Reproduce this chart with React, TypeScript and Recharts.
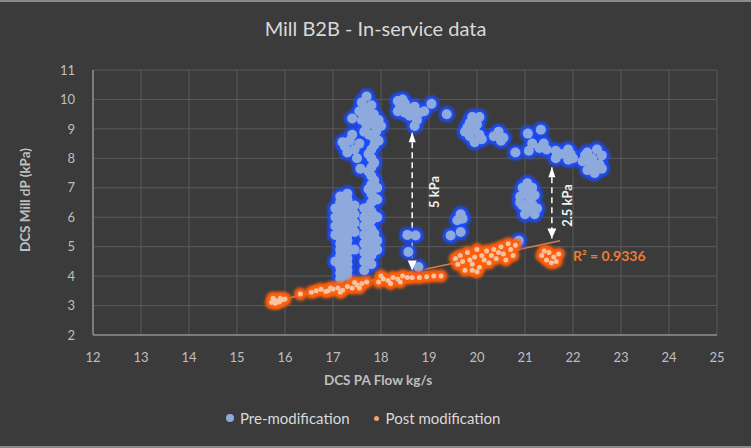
import React from 'react';
import {
  ScatterChart,
  Scatter,
  XAxis,
  YAxis,
  CartesianGrid,
  ReferenceLine,
  ReferenceDot,
} from 'recharts';

type Pt = { x: number; y: number };

const xTicks = [12, 13, 14, 15, 16, 17, 18, 19, 20, 21, 22, 23, 24, 25];
const yTicks = [2, 3, 4, 5, 6, 7, 8, 9, 10, 11];

const p = (x: number, y: number): Pt => ({ x, y });

// Pre-modification clusters
const preLowerLeft: Pt[] = [
  p(17.15, 3.9), p(17.15, 4.1), p(17.15, 4.3), p(17.15, 4.5), p(17.15, 4.7), p(17.15, 4.9),
  p(17.15, 5.1), p(17.15, 5.3), p(17.15, 5.5), p(17.15, 5.7), p(17.15, 5.9), p(17.15, 6.1),
  p(17.15, 6.3), p(17.15, 6.5), p(17.15, 6.7),
  p(17.3, 4.0), p(17.3, 4.2), p(17.3, 4.4), p(17.3, 4.6), p(17.3, 4.8), p(17.3, 5.0),
  p(17.3, 5.2), p(17.3, 5.4), p(17.3, 5.6), p(17.3, 5.8), p(17.3, 6.0), p(17.3, 6.2),
  p(17.3, 6.4), p(17.3, 6.6), p(17.3, 6.8),
  p(17.05, 4.5), p(17.05, 5.4), p(17.05, 5.7), p(17.05, 6.0), p(17.05, 6.3),
  p(17.45, 4.9), p(17.45, 5.5), p(17.45, 5.8), p(17.45, 6.1), p(17.45, 6.4),
];

const preBridge: Pt[] = [
  p(17.65, 4.2), p(17.65, 4.5), p(17.65, 4.8), p(17.65, 5.1), p(17.65, 5.4), p(17.65, 5.7),
  p(17.65, 6.0), p(17.65, 6.3),
  p(17.8, 4.4), p(17.8, 4.7), p(17.8, 5.0), p(17.8, 5.3), p(17.8, 5.6), p(17.8, 5.9),
  p(17.8, 6.2), p(17.8, 6.5), p(17.8, 6.8), p(17.8, 7.1), p(17.8, 7.4), p(17.8, 7.7),
  p(17.8, 8.0), p(17.8, 8.3),
  p(17.74, 4.55), p(17.74, 5.15), p(17.74, 5.75), p(17.74, 6.35), p(17.74, 6.95),
  p(17.74, 7.55), p(17.74, 8.15),
  p(17.86, 4.85), p(17.86, 5.45), p(17.86, 6.05), p(17.86, 6.65), p(17.86, 7.25),
  p(17.86, 7.85), p(17.86, 8.45),
  p(17.92, 4.9), p(17.92, 5.2), p(17.92, 6.0), p(17.92, 6.6), p(17.92, 7.0),
  p(17.57, 7.65),
];

const preMidLeft: Pt[] = [
  p(17.25, 8.4), p(17.35, 8.6), p(17.3, 8.2), p(17.45, 8.3), p(17.5, 8.0),
  p(17.4, 8.8), p(17.55, 8.5), p(17.2, 8.55),
];

const preTop: Pt[] = [
  p(17.6, 9.9), p(17.7, 10.1), p(17.65, 9.6), p(17.75, 9.7), p(17.85, 9.5), p(17.6, 9.3),
  p(17.7, 9.1), p(17.8, 9.2), p(17.9, 9.0), p(17.95, 9.3), p(17.75, 8.8), p(17.85, 8.7),
  p(17.65, 8.9), p(17.95, 8.6), p(18.0, 9.1), p(17.55, 9.6), p(17.8, 9.8), p(17.4, 9.35),
  p(17.75, 9.4), p(17.9, 8.9),
  p(18.35, 9.95), p(18.45, 10.0), p(18.4, 9.75), p(18.5, 9.85), p(18.55, 9.7), p(18.65, 9.6),
  p(18.7, 9.75), p(18.8, 9.55), p(18.35, 9.6), p(18.6, 9.45), p(18.75, 9.3), p(18.7, 9.1),
  p(18.9, 9.6), p(18.5, 9.55), p(19.05, 9.85),
];

const preArrowZone: Pt[] = [
  p(18.55, 5.4), p(18.72, 5.38), p(18.57, 4.82), p(18.78, 4.31),
];

const preRightChain: Pt[] = [
  p(19.37, 9.5),
  p(19.75, 8.9), p(19.85, 9.2), p(19.9, 9.4), p(19.95, 9.0), p(19.85, 8.75), p(20.05, 8.8),
  p(20.0, 9.15), p(19.8, 9.05), p(20.1, 8.65), p(19.95, 8.55), p(20.05, 9.4),
  p(20.35, 8.75), p(20.45, 8.9), p(20.55, 8.7), p(20.5, 8.6),
  p(20.8, 8.2), p(21.06, 8.84), p(21.33, 8.97), p(21.08, 8.26), p(21.15, 8.5), p(21.39, 8.5),
  p(21.45, 8.3), p(21.3, 8.35),
  p(21.64, 8.0), p(21.64, 8.26), p(21.75, 8.15), p(21.9, 7.95), p(21.9, 8.3), p(21.95, 8.15),
  p(22.0, 8.0),
  p(22.2, 7.9), p(22.3, 8.2), p(22.4, 8.0), p(22.5, 8.3), p(22.55, 7.8), p(22.3, 7.6),
  p(22.45, 7.5), p(22.6, 8.1), p(22.25, 8.1), p(22.4, 7.7), p(22.6, 7.65), p(22.35, 7.85),
];

const preMidRight: Pt[] = [
  p(19.66, 6.1), p(19.59, 5.9), p(19.45, 5.38), p(19.66, 5.5), p(19.7, 5.95),
  p(20.95, 7.0), p(21.05, 7.15), p(21.15, 7.0), p(20.9, 6.7), p(21.0, 6.8), p(21.1, 6.6),
  p(21.2, 6.75), p(20.95, 6.4), p(21.05, 6.3), p(21.15, 6.45), p(21.25, 6.3), p(21.0, 6.1),
  p(21.2, 6.1), p(21.1, 6.9), p(20.9, 6.5),
  p(20.87, 5.2),
];

const preModification: Pt[] = [
  ...preLowerLeft, ...preBridge, ...preMidLeft, ...preTop,
  ...preArrowZone, ...preRightChain, ...preMidRight,
];

// Post modification clusters
const postLow: Pt[] = [
  p(15.72, 3.1), p(15.78, 3.2), p(15.85, 3.15), p(15.9, 3.25), p(15.95, 3.2), p(15.8, 3.08),
  p(16.0, 3.22), p(15.75, 3.25), p(15.88, 3.12),
  p(16.32, 3.39), p(16.55, 3.45), p(16.65, 3.5), p(16.75, 3.55), p(16.85, 3.48),
  p(16.95, 3.6), p(16.9, 3.5),
];

const postMid: Pt[] = [
  p(17.0, 3.55), p(17.1, 3.6), p(17.2, 3.52), p(17.3, 3.65), p(17.4, 3.6), p(17.5, 3.7),
  p(17.6, 3.75), p(17.45, 3.78), p(17.55, 3.6), p(17.7, 3.8), p(17.15, 3.45),
  p(17.95, 3.8), p(18.05, 3.9), p(18.15, 3.85), p(18.25, 3.95), p(18.35, 3.9), p(18.45, 4.0),
  p(18.55, 3.95), p(18.0, 4.0), p(18.2, 3.75), p(18.4, 3.8),
  p(18.65, 3.95), p(18.8, 3.95), p(18.95, 3.98), p(19.1, 4.0), p(19.25, 4.0),
];

const postHigh: Pt[] = [
  p(19.55, 4.6), p(19.65, 4.7), p(19.7, 4.5), p(19.8, 4.8), p(19.85, 4.55), p(19.9, 4.4),
  p(19.95, 4.65), p(20.0, 4.9), p(20.05, 4.3), p(20.1, 4.7), p(20.15, 4.55), p(20.2, 4.85),
  p(20.25, 4.45), p(20.3, 4.7), p(20.35, 4.9), p(20.4, 4.6), p(20.45, 4.8), p(20.5, 5.0),
  p(20.55, 4.75), p(20.6, 4.55), p(20.7, 4.9), p(20.75, 4.7), p(20.8, 5.05), p(19.75, 4.2),
  p(19.9, 4.2), p(20.0, 4.15), p(19.6, 4.4), p(20.65, 5.1),
  p(21.35, 4.7), p(21.45, 4.55), p(21.5, 4.8), p(21.55, 4.45), p(21.6, 4.65), p(21.65, 4.5),
  p(21.4, 4.85), p(21.7, 4.75),
];

const postModification: Pt[] = [...postLow, ...postMid, ...postHigh];

const trendLine: Pt[] = [p(15.7, 3.13), p(21.73, 5.2)];
const arrow5kPa: Pt[] = [p(18.65, 8.89), p(18.65, 4.19)];
const arrow25kPa: Pt[] = [p(21.56, 7.7), p(21.56, 5.28)];
const label5kPa = p(19.1, 6.86);
const label25kPa = p(21.88, 6.4);
const labelR2 = p(22.0, 4.69);

const FONT = 'Lato, "Open Sans", sans-serif';

const PreGlow = (props: any) => (
  <circle cx={props.cx} cy={props.cy} r={8} fill="#1c4cff" filter="url(#glowBlur)" />
);
const PreCore = (props: any) => (
  <circle cx={props.cx} cy={props.cy} r={5} fill="#8eaadc" />
);
const PostGlow = (props: any) => (
  <circle cx={props.cx} cy={props.cy} r={6.5} fill="#ff5f08" filter="url(#glowBlur)" />
);
const PostCore = (props: any) => (
  <circle cx={props.cx} cy={props.cy} r={2.5} fill="#f6c4a3" />
);

const headUp = (w: number, h: number) => (props: any) => (
  <polygon
    points={`${props.cx},${props.cy} ${props.cx - w / 2},${props.cy + h} ${props.cx + w / 2},${props.cy + h}`}
    fill="#ffffff"
  />
);
const headDown = (w: number, h: number) => (props: any) => (
  <polygon
    points={`${props.cx},${props.cy} ${props.cx - w / 2},${props.cy - h} ${props.cx + w / 2},${props.cy - h}`}
    fill="#ffffff"
  />
);

const rotatedText = (text: string) => (props: any) => (
  <text
    x={props.cx}
    y={props.cy}
    transform={`rotate(-90 ${props.cx} ${props.cy})`}
    textAnchor="middle"
    dominantBaseline="central"
    fill="#f2f2f2"
    fontSize={13}
    fontWeight={700}
    fontFamily={FONT}
  >
    {text}
  </text>
);

const r2Text = (props: any) => (
  <text
    x={props.cx}
    y={props.cy}
    dominantBaseline="central"
    fill="#ed7d31"
    fontSize={14}
    fontWeight={700}
    fontFamily={FONT}
  >
    R² = 0.9336
  </text>
);

export default function App() {
  return (
    <div
      style={{
        position: 'absolute',
        left: 0,
        top: 0,
        width: 751,
        height: 448,
        background: '#3b3b3b',
        boxSizing: 'border-box',
        borderTop: '2px solid #8a8a8a',
        borderBottom: '2px solid #8a8a8a',
        overflow: 'hidden',
      }}
    >
      <svg width={0} height={0} style={{ position: 'absolute' }}>
        <defs>
          <filter id="glowBlur" x="-60%" y="-60%" width="220%" height="220%">
            <feGaussianBlur stdDeviation="1.8" />
          </filter>
        </defs>
      </svg>
      <div
        style={{
          position: 'absolute',
          top: 14,
          left: 0,
          width: 751,
          textAlign: 'center',
          fontFamily: FONT,
          fontSize: 20,
          color: '#d9d9d9',
        }}
      >
        Mill B2B - In-service data
      </div>
      <div style={{ position: 'absolute', left: 0, top: -2 }}>
        <ScatterChart
          width={751}
          height={448}
          margin={{ top: 70, right: 34, bottom: 73, left: 0 }}
        >
          <CartesianGrid stroke="#5a5a5a" strokeWidth={1} />
          <XAxis
            type="number"
            dataKey="x"
            domain={[12, 25]}
            ticks={xTicks}
            interval={0}
            allowDataOverflow
            tickLine={false}
            axisLine={{ stroke: '#8c8c8c', strokeWidth: 1.5 }}
            tick={{ fill: '#bfbfbf', fontSize: 13, fontFamily: FONT }}
            tickMargin={12}
            height={40}
            label={{
              content: () => (
                <text
                  x={378}
                  y={385}
                  textAnchor="middle"
                  fill="#bfbfbf"
                  fontSize={13.5}
                  fontWeight={700}
                  fontFamily={FONT}
                >
                  DCS PA Flow kg/s
                </text>
              ),
            }}
          />
          <YAxis
            type="number"
            dataKey="y"
            domain={[2, 11]}
            ticks={yTicks}
            interval={0}
            allowDataOverflow
            width={93}
            tickLine={false}
            axisLine={{ stroke: '#8c8c8c', strokeWidth: 1.5 }}
            tick={{ fill: '#bfbfbf', fontSize: 13, fontFamily: FONT }}
            tickMargin={12}
            label={{
              content: () => (
                <text
                  x={25}
                  y={200}
                  transform="rotate(-90 25 200)"
                  textAnchor="middle"
                  dominantBaseline="central"
                  fill="#bfbfbf"
                  fontSize={13.5}
                  fontWeight={700}
                  fontFamily={FONT}
                >
                  DCS Mill dP (kPa)
                </text>
              ),
            }}
          />
          <Scatter name="pre-glow" data={preModification} shape={PreGlow} isAnimationActive={false} legendType="none" />
          <Scatter name="Pre-modification" data={preModification} shape={PreCore} isAnimationActive={false} />
          <Scatter name="post-glow" data={postModification} shape={PostGlow} isAnimationActive={false} legendType="none" />
          <Scatter name="Post modification" data={postModification} shape={PostCore} isAnimationActive={false} />
          <ReferenceLine segment={trendLine} stroke="#d08050" strokeWidth={1.5} />
          <ReferenceLine segment={arrow5kPa} stroke="#ffffff" strokeWidth={1.5} strokeDasharray="6 4" />
          <ReferenceLine segment={arrow25kPa} stroke="#ffffff" strokeWidth={1.5} strokeDasharray="6 4" />
          <ReferenceDot x={arrow5kPa[0].x} y={arrow5kPa[0].y} shape={headUp(7, 10)} />
          <ReferenceDot x={arrow5kPa[1].x} y={arrow5kPa[1].y} shape={headDown(9, 10)} />
          <ReferenceDot x={arrow25kPa[0].x} y={arrow25kPa[0].y} shape={headUp(7, 10)} />
          <ReferenceDot x={arrow25kPa[1].x} y={arrow25kPa[1].y} shape={headDown(9, 10)} />
          <ReferenceDot x={label5kPa.x} y={label5kPa.y} shape={rotatedText('5 kPa')} />
          <ReferenceDot x={label25kPa.x} y={label25kPa.y} shape={rotatedText('2.5 kPa')} />
          <ReferenceDot x={labelR2.x} y={labelR2.y} shape={r2Text} />
        </ScatterChart>
      </div>
      <div
        style={{
          position: 'absolute',
          top: 405,
          left: 226,
          display: 'flex',
          alignItems: 'center',
          fontFamily: FONT,
          fontSize: 15,
          color: '#d9d9d9',
          lineHeight: '22px',
        }}
      >
        <span style={{ display: 'inline-block', width: 8, height: 8, borderRadius: 4, background: '#8eaadc', marginRight: 6 }} />
        <span style={{ marginRight: 24 }}>Pre-modification</span>
        <span style={{ display: 'inline-block', width: 5, height: 5, borderRadius: 3, background: '#f4a46c', marginRight: 7 }} />
        <span>Post modification</span>
      </div>
    </div>
  );
}
